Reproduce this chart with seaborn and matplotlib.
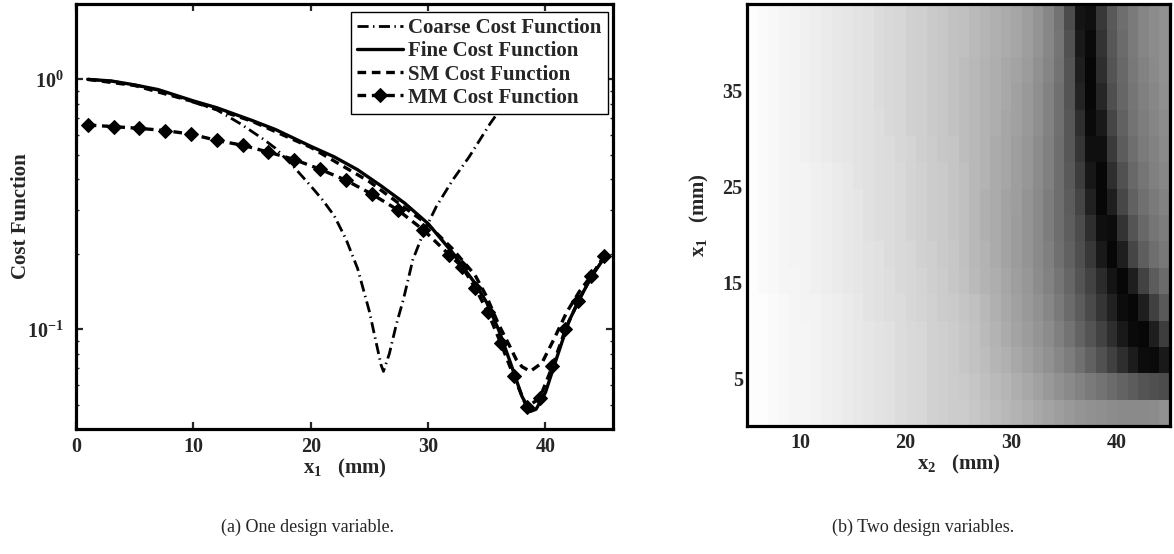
import numpy as np
import pandas as pd
import matplotlib
matplotlib.use("Agg")
import matplotlib.pyplot as plt
import seaborn as sns
from matplotlib.ticker import NullFormatter

# ---------------- data ----------------
coarse_x = [1, 3, 5, 7, 10, 12, 14, 16, 17, 18.5, 20, 21, 22, 23, 24, 25, 25.5, 26, 26.2,
            26.7, 27.3, 27.9, 28.7, 29.6, 30.7, 32.1, 33.5, 35.3, 36.5, 38, 40, 42, 45]
coarse_y = [1.0, 0.985, 0.95, 0.905, 0.81, 0.755, 0.665, 0.575, 0.53, 0.45, 0.375, 0.33,
            0.285, 0.23, 0.175, 0.118, 0.092, 0.072, 0.068, 0.08, 0.105, 0.132, 0.19,
            0.243, 0.31, 0.396, 0.49, 0.667, 0.8, 1.0, 1.25, 1.45, 1.6]

fine_x = [1, 3, 5, 7, 10, 12, 15, 17, 20, 22, 24, 26, 28, 30, 32, 34, 35, 36, 37, 38,
          38.7, 39.2, 40, 41, 42, 43, 44, 45]
fine_y = [1.0, 0.985, 0.95, 0.91, 0.82, 0.77, 0.685, 0.63, 0.54, 0.49, 0.435, 0.375,
          0.32, 0.265, 0.205, 0.153, 0.128, 0.10, 0.074, 0.054, 0.047, 0.048, 0.056,
          0.078, 0.108, 0.135, 0.165, 0.193]

sm_x = [1, 5, 10, 15, 20, 25, 30, 32, 34, 35, 36, 37, 37.5, 38, 38.7, 39.7, 40.7, 41.8,
        42.9, 44.06, 45]
sm_y = [1.0, 0.945, 0.815, 0.68, 0.535, 0.39, 0.262, 0.212, 0.165, 0.135, 0.105, 0.085,
        0.076, 0.071, 0.068, 0.0735, 0.091, 0.117, 0.142, 0.168, 0.196]

mm_x = [1.0, 3.2, 5.4, 7.6, 9.8, 12.0, 14.2, 16.4, 18.6, 20.8, 23.0, 25.2, 27.4, 29.6,
        31.8, 32.9, 34.0, 35.1, 36.2, 37.3, 38.4, 39.5, 40.6, 41.7, 42.8, 43.9, 45.0]
mm_y = [0.657, 0.647, 0.637, 0.624, 0.604, 0.570, 0.545, 0.512, 0.478, 0.437, 0.395,
        0.348, 0.301, 0.25, 0.199, 0.178, 0.147, 0.117, 0.088, 0.065, 0.049, 0.053,
        0.0714, 0.10, 0.13, 0.163, 0.196]

series_labels = ["Coarse Cost Function", "Fine Cost Function",
                 "SM Cost Function", "MM Cost Function"]

# 2-D fine cost map (grey level in %, 0 = black). Rows: x1 from top (44) to bottom (0),
# 2.75 mm each. Columns: x2 from 5 to 45, 1 mm each.
x2_start, x2_step = 5.0, 1.0
x1_top, x1_step = 44.0, 2.75
cost_map = [
    [99,98,97,96,95,94,93,92,91,90,89,88,86,85,84,82,81,79,78,76, 75,73,71,69,67,65,62,58,53,45,30,8,6,22,35,43,48,52,55,57],
    [99,98,97,96,95,94,93,92,91,90,89,88,86,85,84,82,81,79,78,76, 75,73,71,69,67,65,62,58,53,46,32,10,4,20,34,42,48,52,55,57],
    [99,98,97,96,95,94,93,92,91,90,89,88,86,85,84,82,81,79,78,76, 74,72,70,68,66,64,61,57,52,45,33,12,3,18,33,41,47,51,54,57],
    [99,98,97,96,95,94,93,92,91,90,89,88,86,85,84,82,81,79,78,76, 74,72,70,68,66,63,60,56,51,44,33,14,3,15,31,40,46,50,53,56],
    [99,98,97,96,95,94,93,92,91,90,89,88,87,85,84,82,81,79,78,76, 74,72,70,68,65,63,60,56,51,44,34,18,4,10,27,38,45,49,52,55],
    [99,98,97,96,95,94,93,92,91,90,89,88,87,86,84,83,81,80,78,77, 74,72,70,67,65,62,59,55,50,43,34,21,6,6,23,36,43,48,51,54],
    [99,98,97,96,95,95,94,93,92,91,89,88,87,86,85,83,82,80,79,77, 75,72,70,67,65,62,59,55,50,43,35,24,9,3,18,32,41,46,50,53],
    [99,98,97,96,95,95,94,93,92,91,90,88,87,86,85,83,82,80,79,77, 75,72,69,67,64,62,58,54,49,43,36,27,13,3,12,28,38,44,48,51],
    [99,98,97,96,95,95,94,93,92,91,90,88,87,86,85,83,82,80,79,77, 75,72,69,67,64,61,58,54,49,43,37,30,18,6,5,20,33,41,46,49],
    [99,98,97,96,95,95,94,93,92,91,90,89,88,86,85,84,82,81,79,78, 75,72,70,67,64,61,58,54,50,44,38,31,22,10,3,12,27,37,43,47],
    [99,98,97,96,96,95,94,93,92,91,90,89,88,87,85,84,83,81,80,78, 76,73,70,68,65,62,59,55,51,46,40,33,26,17,8,3,12,26,36,42],
    [99,99,98,97,96,95,95,94,93,92,91,89,88,87,86,84,83,82,80,79, 77,75,72,69,66,63,60,57,53,48,42,36,29,21,13,5,3,12,25,35],
    [99,99,98,97,96,96,95,94,93,92,91,90,89,88,86,85,84,82,81,80, 78,76,73,70,67,64,61,58,55,50,45,39,33,26,18,10,4,3,12,24],
    [99,99,98,97,96,96,95,94,93,92,91,90,89,88,86,85,84,82,81,80, 78,76,74,71,69,66,63,60,57,53,49,44,38,32,25,18,11,5,4,10],
    [99,99,98,97,96,96,95,94,93,92,91,90,89,88,86,85,84,82,81,80, 79,77,75,73,71,68,66,63,60,57,54,51,48,45,42,39,36,33,31,30],
    [99,99,98,97,96,96,95,94,93,92,91,90,89,88,86,85,84,82,81,80, 80,78,76,74,72,70,68,66,64,62,60,58,57,56,55,54,54,54,55,57],
]

x1_ticks_a = [0, 10, 20, 30, 40]
y_ticks_a = [0.1, 1.0]
y_ticklabels_a = [r"$\mathbf{10^{-1}}$", r"$\mathbf{10^{0}}$"]
x2_ticks_b = [10, 20, 30, 40]
x1_ticks_b = [5, 15, 25, 35]

# ---------------- style ----------------
sns.set_style("ticks")
plt.rcParams["font.family"] = ["Liberation Serif", "DejaVu Serif"]
plt.rcParams["font.weight"] = "bold"
plt.rcParams["mathtext.fontset"] = "custom"
plt.rcParams["mathtext.rm"] = "Liberation Serif:bold"
plt.rcParams["mathtext.bf"] = "Liberation Serif:bold"
plt.rcParams["mathtext.it"] = "Liberation Serif:bold"
plt.rcParams["axes.linewidth"] = 2.3
plt.rcParams["axes.edgecolor"] = "black"

fig = plt.figure(figsize=(11.74, 5.54), dpi=100)
ax1 = fig.add_axes([0.0647, 0.2256, 0.4574, 0.7671])
ax2 = fig.add_axes([0.6363, 0.2310, 0.3603, 0.7617])

# ---------------- (a) one design variable ----------------
sns.lineplot(x=coarse_x, y=coarse_y, ax=ax1, color="k", lw=2.0,
             linestyle=(0, (4, 1.6, 0.5, 1.6)), label=series_labels[0])
sns.lineplot(x=fine_x, y=fine_y, ax=ax1, color="k", lw=2.4,
             linestyle="-", label=series_labels[1])
sns.lineplot(x=sm_x, y=sm_y, ax=ax1, color="k", lw=2.4,
             linestyle=(0, (2.6, 1.7)), label=series_labels[2])
sns.lineplot(x=mm_x, y=mm_y, ax=ax1, color="k", lw=2.4,
             linestyle=(0, (2.6, 1.7)), marker="D", markersize=7,
             markerfacecolor="k", markeredgecolor="k", label=series_labels[3])

ax1.set_yscale("log")
ax1.set_xlim(0, 45.75)
ax1.set_ylim(0.04, 2.0)
ax1.set_xticks(x1_ticks_a)
ax1.set_xticklabels([str(t) for t in x1_ticks_a])
ax1.set_yticks(y_ticks_a)
ax1.set_yticklabels(y_ticklabels_a)
ax1.yaxis.set_minor_formatter(NullFormatter())
ax1.tick_params(which="major", direction="in", top=True, right=True, length=5,
                width=1.6, labelsize=14.5, pad=6)
ax1.tick_params(axis="y", which="major", pad=9)
ax1.tick_params(which="minor", direction="in", right=True, length=2.5, width=1.0)
ax1.set_xlabel(r"$\mathbf{x_1}$   (mm)", fontsize=15, fontweight="bold", labelpad=0)
ax1.set_ylabel("Cost Function", fontsize=15, fontweight="bold", labelpad=-3)

leg = ax1.legend(loc="upper right", bbox_to_anchor=(0.991, 0.981), borderaxespad=0,
                 fancybox=False, edgecolor="k", framealpha=1,
                 handlelength=2.2, handletextpad=0.25, labelspacing=0.15,
                 borderpad=0.3, prop={"weight": "bold", "size": 15})
leg.get_frame().set_linewidth(1.0)

# ---------------- (b) two design variables ----------------
df = pd.DataFrame(np.array(cost_map) / 100.0)
sns.heatmap(df, ax=ax2, cmap="gray", vmin=0, vmax=1, cbar=False,
            xticklabels=False, yticklabels=False)
ax2.set_xticks([(v - x2_start) / x2_step for v in x2_ticks_b])
ax2.set_xticklabels([str(v) for v in x2_ticks_b], rotation=0)
ax2.set_yticks([(x1_top - v) / x1_step for v in x1_ticks_b])
ax2.set_yticklabels([str(v) for v in x1_ticks_b], rotation=0)
for s in ax2.spines.values():
    s.set_visible(True)
    s.set_linewidth(2.3)
    s.set_color("k")
ax2.tick_params(direction="in", top=True, right=True, bottom=True, left=True,
                length=5, width=1.6, labelsize=14.5, pad=5)
ax2.tick_params(axis="y", pad=3)
ax2.set_xlabel(r"$\mathbf{x_2}$   (mm)", fontsize=15, fontweight="bold", labelpad=0)
ax2.set_ylabel(r"$\mathbf{x_1}$   (mm)", fontsize=15, fontweight="bold", labelpad=8)

# ---------------- captions ----------------
fig.text(0.2615, 0.048, "(a) One design variable.", ha="center", va="center",
         fontsize=13, fontweight="normal")
fig.text(0.786, 0.048, "(b) Two design variables.", ha="center", va="center",
         fontsize=13, fontweight="normal")

fig.savefig("out.png", dpi=100)
